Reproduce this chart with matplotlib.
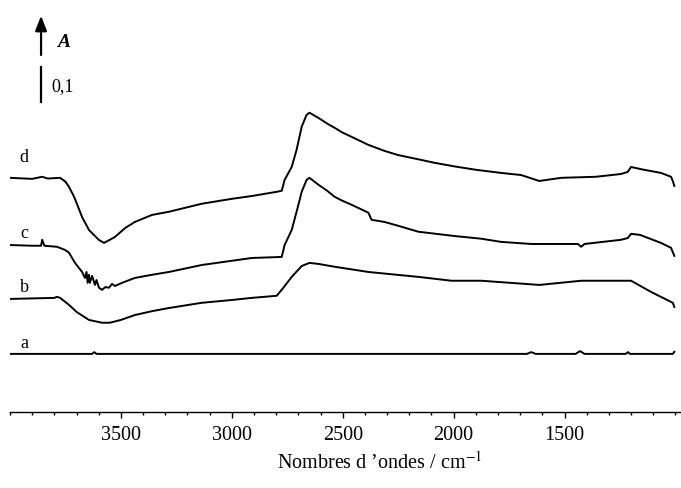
import matplotlib
matplotlib.use("Agg")
import matplotlib.pyplot as plt
from matplotlib.ticker import MultipleLocator

plt.rcParams['font.family'] = ['Liberation Serif', 'DejaVu Serif']
plt.rcParams['mathtext.fontset'] = 'stix'

# spectres IR empilés (absorbance décalée), nombres d'onde en cm-1
w_d = [4000, 3900, 3855, 3830, 3774, 3750, 3734, 3711, 3675, 3644, 3600, 3576,
       3527, 3480, 3437, 3360, 3284, 3135, 3000, 2910, 2798, 2775, 2762, 2730,
       2708, 2685, 2663, 2650, 2609, 2570, 2537, 2500, 2460, 2384, 2312, 2250,
       2160, 2087, 2000, 1900, 1786, 1696, 1614, 1515, 1358, 1245, 1215, 1200,
       1150, 1065, 1020, 1012, 1005]
a_d = [0.503, 0.500, 0.506, 0.501, 0.503, 0.492, 0.477, 0.449, 0.391, 0.354,
       0.326, 0.317, 0.334, 0.360, 0.377, 0.397, 0.406, 0.429, 0.443, 0.451,
       0.463, 0.466, 0.497, 0.534, 0.583, 0.649, 0.683, 0.689, 0.674, 0.658,
       0.646, 0.632, 0.620, 0.597, 0.580, 0.568, 0.556, 0.546, 0.536, 0.526,
       0.517, 0.511, 0.494, 0.503, 0.506, 0.514, 0.520, 0.534, 0.527, 0.517,
       0.506, 0.494, 0.480]

w_c = [4000, 3900, 3860, 3855, 3845, 3788, 3752, 3734, 3707, 3675, 3662, 3655,
       3650, 3644, 3640, 3630, 3617, 3610, 3599, 3585, 3570, 3554, 3540, 3527,
       3495, 3437, 3360, 3284, 3135, 3000, 2910, 2775, 2762, 2730, 2708, 2685,
       2663, 2650, 2609, 2570, 2537, 2500, 2460, 2393, 2384, 2370, 2312, 2250,
       2159, 2000, 1875, 1786, 1650, 1515, 1440, 1425, 1410, 1245, 1215, 1200,
       1160, 1065, 1020, 1005]
a_c = [0.311, 0.309, 0.309, 0.326, 0.309, 0.306, 0.297, 0.289, 0.260, 0.234,
       0.217, 0.234, 0.203, 0.226, 0.203, 0.223, 0.197, 0.211, 0.189, 0.183,
       0.191, 0.189, 0.200, 0.194, 0.203, 0.217, 0.226, 0.234, 0.254, 0.266,
       0.274, 0.277, 0.311, 0.354, 0.406, 0.463, 0.497, 0.503, 0.483, 0.466,
       0.449, 0.437, 0.426, 0.406, 0.403, 0.383, 0.377, 0.366, 0.349, 0.337,
       0.329, 0.320, 0.314, 0.314, 0.314, 0.306, 0.314, 0.326, 0.331, 0.343,
       0.340, 0.317, 0.303, 0.280]

w_b = [4000, 3800, 3788, 3774, 3734, 3700, 3644, 3585, 3550, 3500, 3437, 3360,
       3284, 3135, 3000, 2910, 2798, 2775, 2730, 2685, 2650, 2609, 2537, 2384,
       2159, 2010, 1875, 1614, 1425, 1200, 1110, 1012, 1005]
a_b = [0.157, 0.160, 0.163, 0.160, 0.140, 0.120, 0.097, 0.089, 0.089, 0.097,
       0.111, 0.122, 0.131, 0.146, 0.154, 0.160, 0.166, 0.183, 0.220, 0.251,
       0.260, 0.257, 0.249, 0.234, 0.220, 0.209, 0.209, 0.197, 0.209, 0.209,
       0.177, 0.146, 0.134]

w_a = [4000, 3630, 3620, 3610, 1670, 1650, 1630, 1450, 1430, 1410, 1225, 1214,
       1205, 1012, 1005]
a_a = [0.0, 0.0, 0.005, 0.0, 0.0, 0.005, 0.0, 0.0, 0.008, 0.0, 0.0, 0.005,
       0.0, 0.0, 0.006]

spectres = [('a', w_a, a_a, 0.029), ('b', w_b, a_b, 0.032),
            ('c', w_c, a_c, 0.032), ('d', w_d, a_d, 0.057)]

fig = plt.figure(figsize=(6.81, 4.88), dpi=100)
ax = fig.add_axes([10 / 681, 76 / 488, 671 / 681, 412 / 488])

for nom, w, a, dy in spectres:
    ax.plot(w, a, color='black', lw=1.4, solid_joinstyle='round')
    ax.text(w[0] - 63, a[0] + dy, nom, fontsize=13, ha='center', va='center')

# échelle d'absorbance
ax.annotate('', xy=(3860, 0.974), xytext=(3860, 0.846),
            arrowprops=dict(arrowstyle='-|>,head_length=0.9,head_width=0.35',
                            color='black', lw=1.6))
ax.plot([3860, 3860], [0.72, 0.82], color='black', lw=1.6)
ax.text(3790, 0.891, 'A', fontsize=14, fontweight='bold', fontstyle='italic',
        va='center', ha='left')
ax.text(3815, 0.765, '0,1', fontsize=13, va='center', ha='left')

ax.set_xlim(4000, 975)
ax.set_ylim(-0.166, 1.011)
for s in ['left', 'right', 'top']:
    ax.spines[s].set_visible(False)
ax.spines['bottom'].set_linewidth(1.0)
ax.set_yticks([])
ax.xaxis.set_minor_locator(MultipleLocator(100))
ax.set_xticks([3500, 3000, 2500, 2000, 1500])
ax.tick_params(axis='x', which='major', length=4, width=1, labelsize=14.5, pad=6)
ax.tick_params(axis='x', which='minor', length=2.5, width=1)
ax.set_xlabel('Nombres d \u2019ondes / cm$^{-1}$', fontsize=14.5)
ax.xaxis.set_label_coords(370 / 671, -40 / 412)

fig.savefig('out.png', dpi=100)
